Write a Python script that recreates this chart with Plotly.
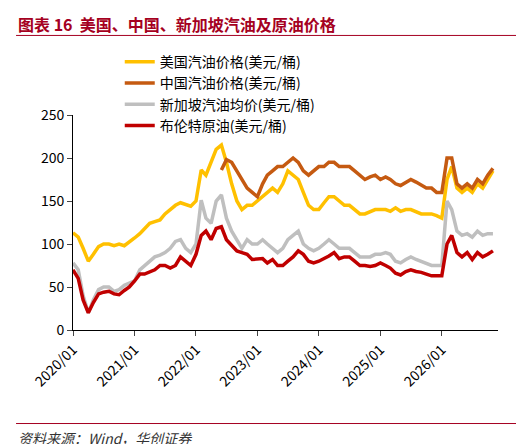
import pandas as pd
import plotly.graph_objects as go

months = pd.date_range("2020-01-01", "2026-11-01", freq="MS")

us_gasoline = [113, 108, 95, 80, 88, 97, 100, 100, 98, 100, 98, 102,
               107, 112, 118, 124, 126, 128, 135, 140, 145, 148, 146, 144,
               150, 186, 180, 195, 210, 215, 195, 170, 150, 140, 145, 145,
               150, 155, 160, 165, 160, 170, 185, 180, 175, 160, 145, 140,
               140, 148, 155, 155, 150, 145, 145, 140, 135, 135, 138, 140,
               140, 140, 138, 142, 138, 140, 140, 138, 135, 135, 135, 133,
               130, 175, 190, 165, 160, 165, 160, 170, 165, 175, 185]
cn_gasoline = [None] * 29 + [
               186, 198, 195, 185, 175, 165, 160,
               155, 170, 180, 185, 190, 190, 195, 200, 195, 185, 180, 185,
               190, 190, 195, 195, 190, 190, 190, 185, 180, 175, 178, 180,
               175, 178, 175, 170, 168, 172, 175, 172, 168, 165, 165, 160,
               160, 200, 200, 170, 165, 170, 165, 175, 170, 180, 188]
sg_gasoline = [78, 70, 40, 20, 35, 47, 50, 50, 45, 47, 52, 55,
               57, 70, 75, 80, 85, 87, 90, 95, 103, 105, 95, 90,
               100, 151, 130, 124, 150, 157, 130, 115, 105, 95, 105, 100,
               100, 105, 100, 95, 90, 95, 105, 110, 115, 100, 95, 92,
               95, 100, 105, 100, 95, 95, 95, 90, 85, 85, 85, 88,
               88, 90, 88, 80, 78, 82, 85, 82, 80, 78, 75, 75,
               75, 150, 140, 115, 110, 112, 108, 115, 110, 112, 112]
brent = [70, 60, 35, 20, 32, 42, 44, 45, 42, 41, 46, 50,
         57, 65, 65, 67, 70, 75, 75, 72, 75, 85, 80, 75,
         88, 110, 115, 105, 118, 120, 105, 98, 92, 90, 88, 82,
         82, 83, 78, 82, 75, 75, 80, 85, 92, 88, 80, 78,
         80, 83, 86, 90, 83, 85, 85, 80, 75, 75, 74, 75,
         78, 75, 72, 66, 64, 68, 70, 68, 67, 65, 63, 63,
         63, 100, 110, 90, 85, 90, 82, 90, 85, 88, 92]

series = [
    ("美国汽油价格(美元/桶)", us_gasoline, "#FFC000"),
    ("中国汽油价格(美元/桶)", cn_gasoline, "#C55A11"),
    ("新加坡汽油均价(美元/桶)", sg_gasoline, "#BFBFBF"),
    ("布伦特原油(美元/桶)", brent, "#C00000"),
]

fig = go.Figure()
for name, vals, color in series:
    fig.add_trace(go.Scatter(x=months, y=vals, name=name, mode="lines",
                             line=dict(color=color, width=3.5)))

fig.update_layout(
    width=524, height=444,
    margin=dict(l=65, r=34, t=107, b=122, autoexpand=False),
    paper_bgcolor="white", plot_bgcolor="white",
    font=dict(family="Noto Sans CJK SC", size=14, color="black"),
    showlegend=True,
    legend=dict(x=0.11, y=1.32, xanchor="left", yanchor="top",
                bgcolor="rgba(0,0,0,0)", font=dict(size=14),
                tracegroupgap=0),
    xaxis=dict(range=["2020-01-01", "2026-12-01"], tickformat="%Y/%m",
               dtick="M12", tick0="2020-01-01", tickangle=-45,
               showline=True, linecolor="black", ticks="outside",
               showgrid=False),
    yaxis=dict(range=[0, 250], dtick=50, showline=True, linecolor="black",
               ticks="outside", showgrid=False, zeroline=False),
)

fig.add_annotation(text="<b>图表 16  美国、中国、新加坡汽油及原油价格</b>",
                   xref="paper", yref="paper", x=-0.134, y=1.423,
                   xanchor="left", yanchor="middle", showarrow=False,
                   font=dict(size=16, color="#A50021"))
fig.add_shape(type="line", xref="paper", yref="paper", x0=-0.134, x1=1.06,
              y0=1.37, y1=1.37, line=dict(color="#A50021", width=1))
fig.add_shape(type="line", xref="paper", yref="paper", x0=-0.134, x1=1.06,
              y0=-0.435, y1=-0.435, line=dict(color="#A50021", width=1))
fig.add_annotation(text="<i>资料来源：Wind，华创证券</i>",
                   xref="paper", yref="paper", x=-0.134, y=-0.5,
                   xanchor="left", yanchor="middle", showarrow=False,
                   font=dict(size=14, color="#333333"))

fig.write_html("out.html")
